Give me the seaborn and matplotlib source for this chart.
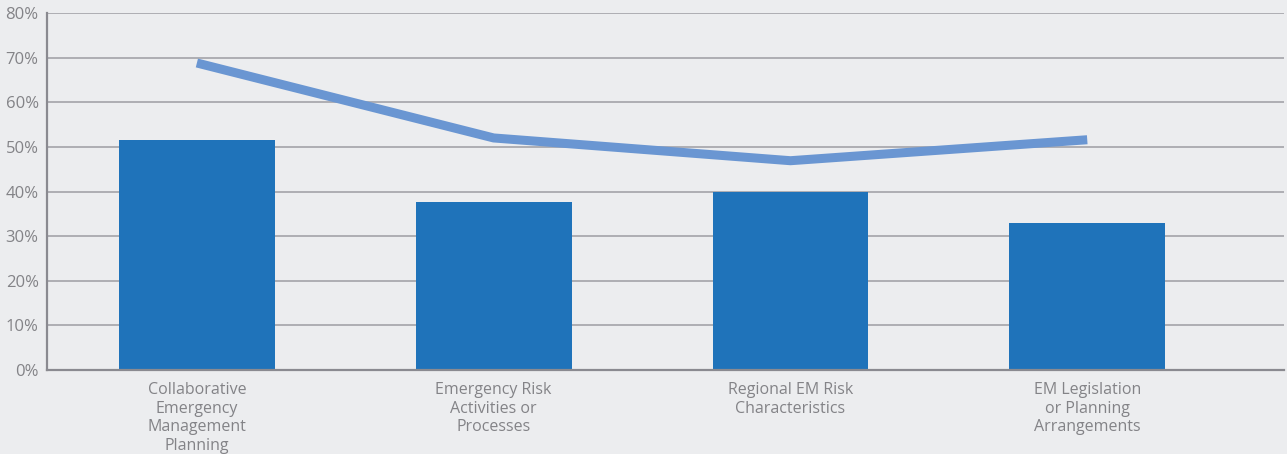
import matplotlib
matplotlib.use("Agg")
import matplotlib.pyplot as plt
import seaborn as sns
import pandas as pd
from matplotlib.ticker import PercentFormatter

categories = [
    "Collaborative\nEmergency\nManagement\nPlanning",
    "Emergency Risk\nActivities or\nProcesses",
    "Regional EM Risk\nCharacteristics",
    "EM Legislation\nor Planning\nArrangements",
]
bar_values = [51.6, 37.7, 39.9, 33.0]
line_values = [68.8, 52.0, 46.9, 51.6]
y_ticks = [0, 10, 20, 30, 40, 50, 60, 70, 80]

bg = "#ECEDEF"
bar_color = "#1F73BA"
line_color = "#6A96D2"
text_color = "#838387"
grid_color = "#A9A9AE"

sns.set_theme(style="white")
plt.rcParams["font.family"] = ["Open Sans", "DejaVu Sans"]

df = pd.DataFrame({"category": categories, "bar": bar_values, "line": line_values})

fig = plt.figure(figsize=(12.87, 4.54), dpi=100, facecolor=bg)
ax = fig.add_axes([47 / 1287, 84 / 454, (1284 - 47) / 1287, (370 - 13) / 454])
ax.set_facecolor(bg)

sns.barplot(data=df, x="category", y="bar", color=bar_color, width=0.525,
            saturation=1, linewidth=0, edgecolor="none", ax=ax, zorder=2)
ax.plot(range(len(categories)), line_values, color=line_color, lw=6.5,
        solid_capstyle="butt", zorder=3)

ax.set_ylim(0, 80)
ax.set_xlim(-0.505, 3.663)
ax.set_yticks(y_ticks)
ax.yaxis.set_major_formatter(PercentFormatter(decimals=0))
ax.grid(axis="y", color=grid_color, lw=1.3, zorder=0)
ax.set_axisbelow(True)

for s in ["top", "right"]:
    ax.spines[s].set_visible(False)
for s in ["left", "bottom"]:
    ax.spines[s].set_color("#8A8A90")
    ax.spines[s].set_linewidth(1.6)

ax.set_xlabel("")
ax.set_ylabel("")
ax.tick_params(axis="y", length=0, pad=6, labelsize=12, labelcolor=text_color)
ax.tick_params(axis="x", length=0, pad=9, labelsize=11.5, labelcolor=text_color)
for lbl in ax.get_xticklabels():
    lbl.set_linespacing(1.2)
    lbl.set_ha("center")

fig.savefig("out.png", dpi=100, facecolor=bg)
